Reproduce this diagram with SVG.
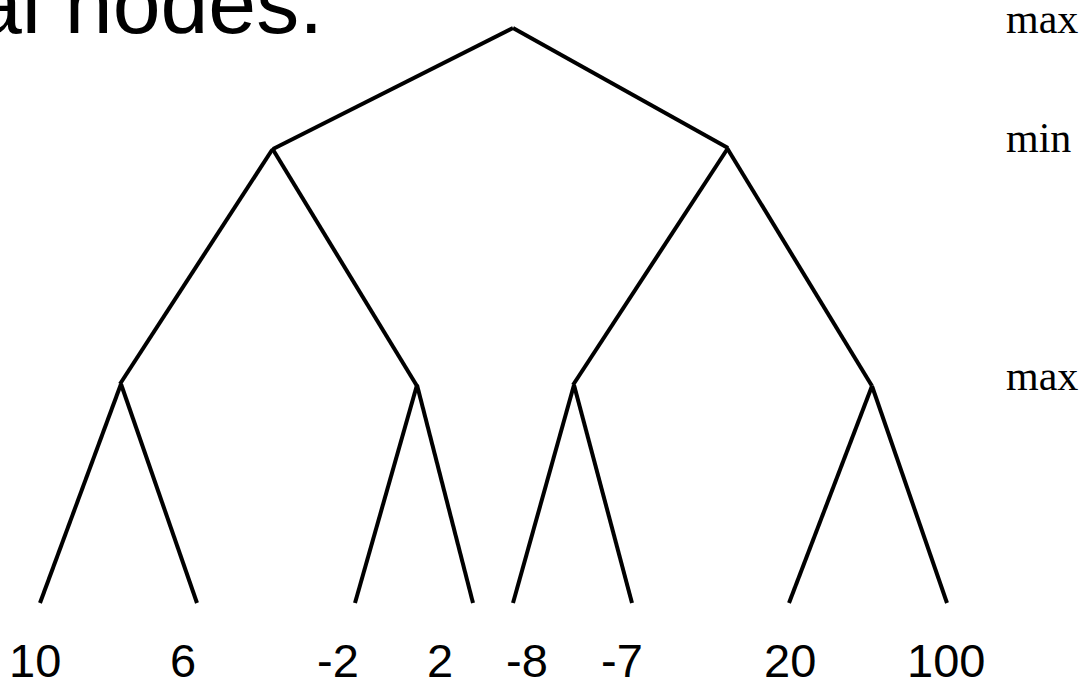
<svg xmlns="http://www.w3.org/2000/svg" width="1084" height="681" viewBox="0 0 1084 681">
<style>
.edge{stroke:#000;stroke-width:4;fill:none;stroke-linecap:butt}
.title{font-family:"Liberation Sans",Arial,sans-serif;font-size:86px;fill:#000}
.lvl{font-family:"Liberation Serif","Times New Roman",serif;font-size:42px;fill:#000}
.leaf{font-family:"Liberation Sans",Arial,sans-serif;font-size:47px;fill:#000}
</style>
<rect width="1084" height="681" fill="#fff"/>
<text class="title" x="-26" y="33">al nodes.</text>
<g id="labels">
<text class="lvl" x="1006" y="33">max</text>
<text class="lvl" x="1006" y="152">min</text>
<text class="lvl" x="1006" y="390">max</text>
</g>
<g id="connectors">
<line class="edge" x1="513" y1="28" x2="273" y2="149"/>
<line class="edge" x1="513" y1="28" x2="728" y2="148"/>
<line class="edge" x1="272" y1="150" x2="120" y2="384"/>
<line class="edge" x1="272" y1="148" x2="417" y2="386"/>
<line class="edge" x1="728" y1="148" x2="573" y2="385"/>
<line class="edge" x1="727" y1="148" x2="872" y2="386"/>
<line class="edge" x1="121" y1="384" x2="40" y2="603"/>
<line class="edge" x1="121" y1="384" x2="197" y2="603"/>
<line class="edge" x1="417" y1="385" x2="355" y2="603"/>
<line class="edge" x1="417" y1="385" x2="473" y2="603"/>
<line class="edge" x1="574" y1="385" x2="513" y2="603"/>
<line class="edge" x1="574" y1="385" x2="632" y2="603"/>
<line class="edge" x1="872" y1="386" x2="789" y2="603"/>
<line class="edge" x1="872" y1="386" x2="947" y2="603"/>
</g>
<g id="leaves">
<text class="leaf" x="9" y="677">10</text>
<text class="leaf" x="170" y="677">6</text>
<text class="leaf" x="317" y="677">-2</text>
<text class="leaf" x="427" y="677">2</text>
<text class="leaf" x="506" y="677">-8</text>
<text class="leaf" x="601" y="677">-7</text>
<text class="leaf" x="764" y="677">20</text>
<text class="leaf" x="907" y="677">100</text>
</g>
</svg>
